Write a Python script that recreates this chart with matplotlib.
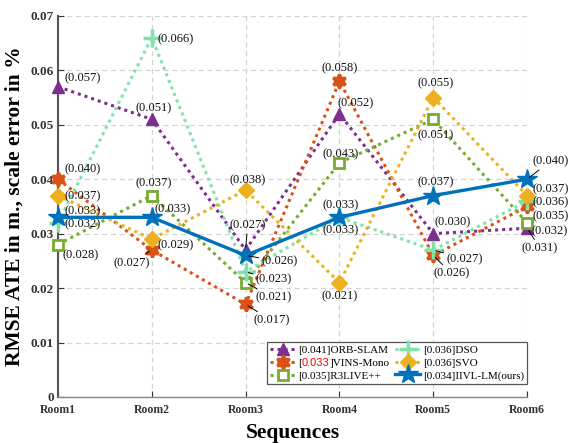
import matplotlib
matplotlib.use("Agg")
import matplotlib.pyplot as plt
from matplotlib.offsetbox import TextArea, HPacker

plt.rcParams['font.family'] = ['Liberation Serif', 'DejaVu Serif']

# ---------------- data ----------------
rooms = ['Room1', 'Room2', 'Room3', 'Room4', 'Room5', 'Room6']
orb = [0.057, 0.051, 0.027, 0.052, 0.030, 0.031]
vins = [0.040, 0.027, 0.017, 0.058, 0.026, 0.035]
r3live = [0.028, 0.037, 0.021, 0.043, 0.051, 0.032]
dso = [0.032, 0.066, 0.023, 0.033, 0.027, 0.036]
svo = [0.037, 0.029, 0.038, 0.021, 0.055, 0.037]
iivl = [0.033, 0.033, 0.026, 0.033, 0.037, 0.040]
names = ['ORB-SLAM', 'VINS-Mono', 'R3LIVE++', 'DSO', 'SVO', 'IIVL-LM(ours)']
means = ['0.041', '0.033', '0.035', '0.036', '0.036', '0.034']
yticks = [0, 0.01, 0.02, 0.03, 0.04, 0.05, 0.06, 0.07]
ytick_labels = ['0', '0.01', '0.02', '0.03', '0.04', '0.05', '0.06', '0.07']

# ---------------- styles ----------------
series = [orb, vins, r3live, dso, svo, iivl]
colors = ['#7E2F8E', '#D95319', '#77AC30', '#7FE3AA', '#EDB120', '#0072BD']
dot = (0, (1.0, 1.3))
styles = [
    dict(ls=dot, lw=2.2, marker='^', ms=9, mfc=colors[0], mec=colors[0]),
    dict(ls=dot, lw=2.2, marker=(6, 1, 0), ms=10, mfc=colors[1], mec=colors[1], mew=2.2),
    dict(ls=dot, lw=2.2, marker='s', ms=7, mfc='white', mec=colors[2], mew=2),
    dict(ls=dot, lw=2.2, marker='+', ms=13, mec=colors[3], mew=2.5),
    dict(ls=dot, lw=2.2, marker='D', ms=8, mfc=colors[4], mec=colors[4]),
    dict(ls='-', lw=2.4, marker='*', ms=15, mfc=colors[5], mec=colors[5]),
]

# label offsets (pixels): dx, dy, ha, leader line
offs = [
    [(7, 8, 'left', 0), (2, 11, 'center', 0), (2, 25, 'center', 1), (16, 11, 'center', 0), (1, 11, 'left', 0), (13, -20, 'center', 1)],
    [(7, 10, 'left', 0), (-2, -13, 'right', 1), (8, -16, 'left', 1), (0, 13, 'center', 0), (0, -18, 'left', 1), (5, -10, 'left', 0)],
    [(5, -11, 'left', 0), (2, 12, 'center', 0), (10, -15, 'left', 1), (1, 9, 'center', 0), (2, -16, 'center', 0), (4, -9, 'left', 0)],
    [(7, -2, 'left', 0), (6, -2, 'left', 0), (10, -8, 'left', 1), (1, -13, 'center', 0), (13, -9, 'left', 1), (5, -1, 'left', 0)],
    [(7, -1, 'left', 0), (6, -6, 'left', 0), (2, 10, 'center', 0), (0, -14, 'center', 0), (2, 14, 'center', 0), (5, 6, 'left', 0)],
    [(7, 6, 'left', 0), (3, 8, 'left', 0), (16, -6, 'left', 1), (1, 12, 'center', 0), (2, 13, 'center', 0), (5, 18, 'left', 1)],
]

fig = plt.figure(figsize=(5.68, 4.43), dpi=100)
ax = fig.add_axes([0.102, 0.104, 0.826, 0.860])

x = list(range(len(rooms)))
for vals, c, st, nm, mn in zip(series, colors, styles, names, means):
    ax.plot(x, vals, color=c, label=f'[{mn}]{nm}', zorder=3, clip_on=False, **st)

for vals, ofs in zip(series, offs):
    for i, (v, (dx, dy, ha, line)) in enumerate(zip(vals, ofs)):
        ap = dict(arrowstyle='-', color='black', lw=0.7, shrinkA=0, shrinkB=2) if line else None
        ax.annotate(f'({v:.3f})', xy=(i, v), xytext=(dx, dy), textcoords='offset pixels',
                    ha=ha, va='center', fontsize=9, color='#111111', zorder=5,
                    annotation_clip=False, arrowprops=ap)

ax.set_xlim(0, 5)
ax.set_ylim(0, 0.07)
ax.set_xticks(x)
ax.set_xticklabels(rooms, fontsize=8.5, fontweight='bold')
ax.set_yticks(yticks)
ax.set_yticklabels(ytick_labels, fontsize=9.5, fontweight='bold')
ax.tick_params(direction='in', length=4, width=0.8, colors='#333333')
ax.tick_params(axis='y', pad=3)
ax.tick_params(axis='x', pad=5)
ax.grid(True, color='#D3D3D3', ls=(0, (4, 3)), lw=0.9)
ax.set_axisbelow(True)
for s in ['top', 'right']:
    ax.spines[s].set_visible(False)
ax.spines['left'].set_color('#555555')
ax.spines['left'].set_linewidth(1.5)
ax.spines['bottom'].set_color('#888888')
ax.spines['bottom'].set_linewidth(1.0)

ax.set_ylabel('RMSE ATE in m., scale error in %', fontsize=15.5, fontweight='bold', labelpad=4)
ax.set_xlabel('Sequences', fontsize=15.5, fontweight='bold', labelpad=5)

leg = ax.legend(loc='lower right', bbox_to_anchor=(1.0, 13 / 381), ncol=2, fontsize=8,
                handlelength=2.3, handletextpad=0.2, columnspacing=0.5, labelspacing=0.25,
                borderpad=0.3, borderaxespad=0, fancybox=False, framealpha=1, edgecolor='#555555')
leg.get_frame().set_linewidth(0.9)
leg.set_zorder(6)

# make the VINS-Mono mean value red
vins_txt = leg.get_texts()[1]
for col in leg._legend_handle_box.get_children():
    for row in col.get_children():
        ch = row.get_children()
        if len(ch) == 2 and isinstance(ch[1], TextArea) and ch[1]._text is vins_txt:
            tp = dict(fontproperties=leg.prop, va='baseline', ha='left')
            redprop = leg.prop.copy()
            redprop.set_family(['Liberation Sans'])
            newbox = HPacker(children=[
                TextArea('[', textprops=tp),
                TextArea(means[1], textprops=dict(fontproperties=redprop, color='red', va='baseline', ha='left')),
                TextArea(']' + names[1], textprops=tp)], pad=0, sep=0, align='baseline')
            newbox.set_figure(fig)
            row._children[1] = newbox

fig.savefig('out.png', dpi=100)
